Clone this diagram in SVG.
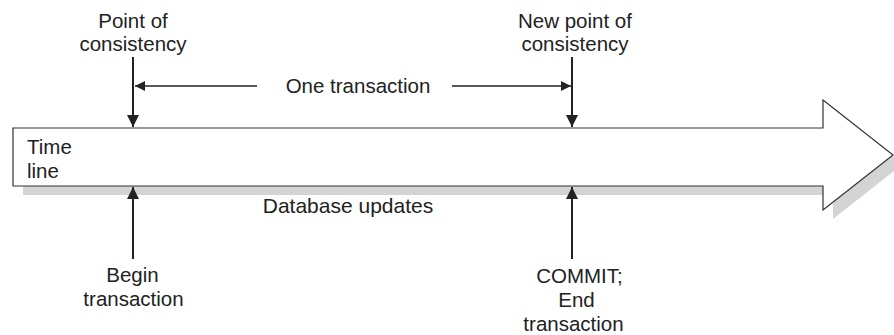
<svg xmlns="http://www.w3.org/2000/svg" width="894" height="335" viewBox="0 0 894 335">
<style>
text{font-family:"Liberation Sans",Arial,sans-serif;font-size:20.5px;fill:#222}
.c{text-anchor:middle}
.v{stroke:#222;stroke-width:2;fill:none}
.h{stroke:#222;stroke-width:1.5;fill:none}
</style>
<defs>
<marker id="ah" viewBox="0 0 10 10" refX="10" refY="5" markerWidth="10" markerHeight="10" markerUnits="userSpaceOnUse" orient="auto">
<path d="M0,0 L10,5 L0,10 Z" fill="#222"/>
</marker>
<marker id="ahv" viewBox="0 0 10 10" refX="10" refY="5" markerWidth="12" markerHeight="12" markerUnits="userSpaceOnUse" orient="auto">
<path d="M0,0 L10,5 L0,10 Z" fill="#222"/>
</marker>
</defs>
<g id="timeline">
<polygon points="23,137 833,137 833,109 903,164 833,219 833,195 23,195" fill="#d4d4d4"/>
<polygon points="13,128 823,128 823,100 893,155 823,210 823,186 13,186" fill="#fff" stroke="#333" stroke-width="1.2"/>
<text x="27" y="154">Time</text>
<text x="27" y="178">line</text>
<text x="348" y="213" class="c" style="font-size:21px">Database updates</text>
</g>
<g id="point-of-consistency">
<text x="133" y="28" class="c">Point of</text>
<text x="133" y="51" class="c">consistency</text>
</g>
<g id="new-point-of-consistency">
<text x="575" y="28" class="c">New point of</text>
<text x="575" y="51" class="c">consistency</text>
</g>
<g id="one-transaction">
<text x="358" y="93" class="c">One transaction</text>
</g>
<g id="begin-transaction">
<text x="132.5" y="282" class="c">Begin</text>
<text x="133.5" y="306" class="c">transaction</text>
</g>
<g id="commit">
<text x="579.5" y="283" class="c">COMMIT;</text>
<text x="576.5" y="307" class="c">End</text>
<text x="573.5" y="331" class="c">transaction</text>
</g>
<g id="connectors">
<line class="v" x1="133" y1="57" x2="133" y2="127" marker-end="url(#ahv)"/>
<line class="v" x1="572" y1="57" x2="572" y2="127" marker-end="url(#ahv)"/>
<line class="h" x1="257" y1="86" x2="135" y2="86" marker-end="url(#ah)"/>
<line class="h" x1="452" y1="86" x2="571" y2="86" marker-end="url(#ah)"/>
<line class="v" x1="133" y1="259" x2="133" y2="187" marker-end="url(#ahv)"/>
<line class="v" x1="572" y1="259" x2="572" y2="187" marker-end="url(#ahv)"/>
</g>
</svg>
